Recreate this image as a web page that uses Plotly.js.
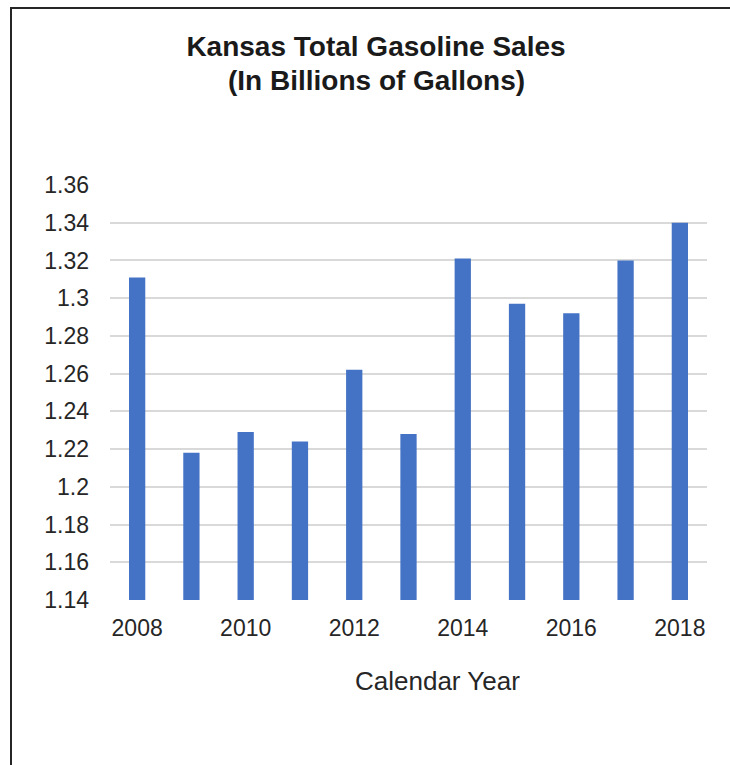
<!DOCTYPE html>
<html>
<head>
<meta charset="utf-8">
<script src="https://cdn.plot.ly/plotly-3.0.1.min.js"></script>
<style>
html,body{margin:0;padding:0;background:#fff;}
#wrap{position:relative;width:730px;height:765px;overflow:hidden;}
#chart{position:absolute;left:0;top:0;width:730px;height:765px;}
#frame{position:absolute;left:10px;top:7px;width:740px;height:800px;border-top:2.5px solid #262626;border-left:2.5px solid #262626;pointer-events:none;}
</style>
</head>
<body>
<div id="wrap"><div id="chart"></div><div id="frame"></div></div>
<script>
const years = [2008, 2009, 2010, 2011, 2012, 2013, 2014, 2015, 2016, 2017, 2018];
const sales = [1.311, 1.218, 1.229, 1.224, 1.262, 1.228, 1.321, 1.297, 1.292, 1.320, 1.340];
const yTickVals = [1.14, 1.16, 1.18, 1.20, 1.22, 1.24, 1.26, 1.28, 1.30, 1.32, 1.34, 1.36];
const yTickText = ['1.14', '1.16', '1.18', '1.2', '1.22', '1.24', '1.26', '1.28', '1.3', '1.32', '1.34', '1.36'];
const xTickVals = [2008, 2010, 2012, 2014, 2016, 2018];
const xTickText = ['2008', '2010', '2012', '2014', '2016', '2018'];
const titleLine1 = 'Kansas Total Gasoline Sales';
const titleLine2 = '(In Billions of Gallons)';
const xTitle = 'Calendar Year';

const FONT = 'Liberation Sans, Arial, sans-serif';

// plot area: top 185px, bottom 600.5px, left 110px, right 707px
const PT = 185, PB = 600.5, PL = 110, PR = 707;
const py = v => (PB - v) / (PB - PT);
const px = v => (v - PL) / (PR - PL);

const trace = {
  type: 'bar',
  x: years,
  y: sales,
  width: 0.3,
  marker: {color: '#4472C4', line: {width: 0}},
  hoverinfo: 'x+y'
};

const layout = {
  width: 730,
  height: 765,
  margin: {l: PL, r: 730 - PR, t: PT, b: 765 - PB, pad: 0},
  paper_bgcolor: '#ffffff',
  plot_bgcolor: '#ffffff',
  showlegend: false,
  font: {family: FONT, color: '#262626', size: 22},
  title: {
    text: titleLine1,
    font: {family: FONT, size: 28, color: '#1a1a1a', weight: 'bold'},
    x: 376 / 730, xref: 'container', xanchor: 'center',
    y: 1 - 46 / 765, yref: 'container', yanchor: 'middle'
  },
  xaxis: {
    type: 'linear',
    range: [2007.5, 2018.5],
    tickvals: xTickVals,
    ticktext: xTickText,
    showgrid: false,
    zeroline: false,
    showline: false,
    ticks: '',
    ticklabelstandoff: 12,
    tickfont: {family: FONT, size: 23, color: '#262626'},
    fixedrange: true
  },
  yaxis: {
    range: [1.14, 1.36],
    tickvals: yTickVals,
    ticktext: yTickText,
    showgrid: true,
    gridcolor: '#d9d9d9',
    gridwidth: 2,
    zeroline: false,
    showline: false,
    ticks: '',
    ticklabelstandoff: 20,
    tickfont: {family: FONT, size: 23, color: '#262626'},
    fixedrange: true
  },
  annotations: [{
    text: titleLine2,
    xref: 'paper', yref: 'paper',
    x: px(376), y: py(80),
    xanchor: 'center', yanchor: 'middle',
    showarrow: false,
    font: {family: FONT, size: 28, color: '#1a1a1a', weight: 'bold'}
  }, {
    text: xTitle,
    xref: 'paper', yref: 'paper',
    x: px(437), y: py(682),
    xanchor: 'center', yanchor: 'middle',
    showarrow: false,
    font: {family: FONT, size: 26, color: '#262626'}
  }]
};

Plotly.newPlot('chart', [trace], layout, {displayModeBar: false, staticPlot: true});
</script>
</body>
</html>
